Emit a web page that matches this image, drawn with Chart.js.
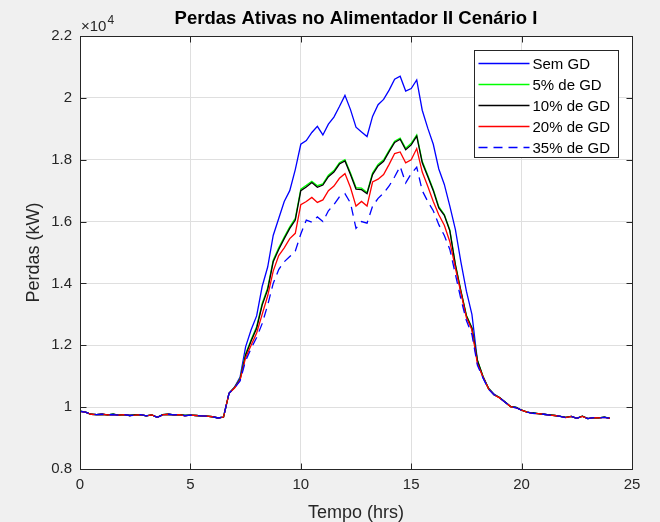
<!DOCTYPE html>
<html>
<head>
<meta charset="utf-8">
<script src="https://cdn.jsdelivr.net/npm/chart.js@4.4.0/dist/chart.umd.min.js"></script>
<style>
  html, body { margin: 0; padding: 0; background: #f0f0f0; }
  #wrap { width: 660px; height: 522px; }
</style>
</head>
<body>
<div id="wrap"><canvas id="chart" width="660" height="522"></canvas></div>
<script>
// tempo em horas (passo de 15 min)
const hours = [
  0, 0.25, 0.5, 0.75, 1, 1.25, 1.5, 1.75, 2, 2.25, 2.5, 2.75, 3, 3.25, 3.5, 3.75,
  4, 4.25, 4.5, 4.75, 5, 5.25, 5.5, 5.75, 6, 6.25, 6.5, 6.75, 7, 7.25, 7.5, 7.75,
  8, 8.25, 8.5, 8.75, 9, 9.25, 9.5, 9.75, 10, 10.25, 10.5, 10.75, 11, 11.25, 11.5, 11.75,
  12, 12.25, 12.5, 12.75, 13, 13.25, 13.5, 13.75, 14, 14.25, 14.5, 14.75, 15, 15.25, 15.5, 15.75,
  16, 16.25, 16.5, 16.75, 17, 17.25, 17.5, 17.75, 18, 18.25, 18.5, 18.75, 19, 19.25, 19.5, 19.75,
  20, 20.25, 20.5, 20.75, 21, 21.25, 21.5, 21.75, 22, 22.25, 22.5, 22.75, 23, 23.25, 23.5, 23.75, 24
];

// perdas em kW
const semGD = [
  9870, 9840, 9770, 9760, 9770, 9750, 9770, 9740, 9760, 9730, 9750, 9760, 9720, 9750, 9670, 9760,
  9770, 9750, 9760, 9730, 9740, 9730, 9720, 9710, 9690, 9650, 9680, 10450, 10650, 10970, 11950, 12500,
  12950, 13900, 14530, 15550, 16100, 16650, 17000, 17680, 18500, 18620, 18880, 19080, 18800, 19150, 19380, 19720,
  20080, 19620, 19050, 18900, 18750, 19400, 19780, 19950, 20250, 20600, 20700, 20220, 20300, 20580, 19600, 19020,
  18500, 17700, 17200, 16500, 15750, 14700, 13750, 13000, 11500, 10950, 10620, 10420, 10310, 10170, 10020, 9990,
  9900, 9840, 9810, 9790, 9770, 9750, 9730, 9700, 9670, 9700, 9640, 9710, 9630, 9660, 9650, 9680, 9640
];
const gd5 = [
  9870, 9840, 9770, 9760, 9770, 9750, 9770, 9740, 9760, 9730, 9750, 9760, 9720, 9750, 9670, 9760,
  9770, 9750, 9760, 9730, 9740, 9730, 9720, 9710, 9690, 9650, 9680, 10450, 10640, 10920, 11720, 12180,
  12600, 13350, 13850, 14750, 15150, 15500, 15830, 16100, 17050, 17170, 17300, 17160, 17220, 17500, 17650, 17900,
  18000, 17570, 17100, 17080, 16940, 17570, 17850, 18000, 18300, 18600, 18700, 18370, 18530, 18800, 17950, 17500,
  17040, 16480, 16230, 15730, 14620, 13770, 12970, 12570, 11520, 11000, 10610, 10410, 10310, 10170, 10020, 9990,
  9900, 9840, 9810, 9790, 9770, 9750, 9730, 9700, 9670, 9700, 9640, 9710, 9630, 9660, 9650, 9680, 9640
];
const gd10 = [
  9870, 9840, 9770, 9760, 9770, 9750, 9770, 9740, 9760, 9730, 9750, 9760, 9720, 9750, 9670, 9760,
  9770, 9750, 9760, 9730, 9740, 9730, 9720, 9710, 9690, 9650, 9680, 10450, 10630, 10900, 11680, 12140,
  12550, 13300, 13800, 14700, 15100, 15450, 15780, 16050, 17000, 17120, 17260, 17110, 17180, 17450, 17600, 17860,
  17960, 17520, 17050, 17030, 16900, 17520, 17800, 17950, 18260, 18560, 18660, 18320, 18480, 18760, 17900, 17460,
  17000, 16440, 16200, 15700, 14600, 13750, 12950, 12550, 11500, 10990, 10600, 10400, 10310, 10170, 10020, 9990,
  9900, 9840, 9810, 9790, 9770, 9750, 9730, 9700, 9670, 9700, 9640, 9710, 9630, 9660, 9650, 9680, 9640
];
const gd20 = [
  9860, 9840, 9770, 9760, 9770, 9750, 9760, 9740, 9760, 9730, 9740, 9760, 9720, 9750, 9670, 9750,
  9770, 9750, 9760, 9720, 9740, 9730, 9720, 9710, 9690, 9650, 9680, 10450, 10620, 10880, 11600, 12000,
  12400, 13000, 13600, 14400, 14900, 15150, 15450, 15620, 16550, 16650, 16780, 16620, 16700, 17000, 17150, 17400,
  17550, 17100, 16500, 16650, 16500, 17280, 17370, 17520, 17850, 18200, 18250, 17900, 18000, 18360, 17600, 17140,
  16650, 16220, 15880, 15350, 14500, 13700, 12900, 12500, 11400, 10980, 10600, 10400, 10300, 10160, 10020, 9980,
  9900, 9840, 9800, 9790, 9770, 9740, 9730, 9700, 9660, 9700, 9640, 9700, 9630, 9660, 9650, 9670, 9640
];
const gd35 = [
  9860, 9840, 9770, 9760, 9770, 9750, 9760, 9740, 9760, 9730, 9740, 9760, 9720, 9750, 9670, 9750,
  9770, 9750, 9760, 9720, 9740, 9730, 9720, 9710, 9690, 9650, 9680, 10450, 10620, 10850, 11500, 11900,
  12250, 12700, 13300, 14000, 14450, 14700, 14870, 15040, 15600, 16050, 15980, 16150, 16000, 16350, 16550, 16800,
  16900, 16600, 15780, 16000, 15950, 16500, 16750, 16920, 17150, 17450, 17780, 17250, 17550, 17760, 17000, 16650,
  16350, 15900, 15550, 15100, 14300, 13500, 12800, 12350, 11350, 10950, 10580, 10400, 10300, 10160, 10020, 9980,
  9900, 9840, 9800, 9790, 9770, 9740, 9730, 9700, 9660, 9700, 9640, 9700, 9630, 9660, 9650, 9670, 9640
];

const seriesNames = ['Sem GD', '5% de GD', '10% de GD', '20% de GD', '35% de GD'];
const xTicks = [0, 5, 10, 15, 20, 25];
const yTickValues = [8000, 10000, 12000, 14000, 16000, 18000, 20000, 22000];
const yTickLabels = ['0.8', '1', '1.2', '1.4', '1.6', '1.8', '2', '2.2'];

const FONT = 'Liberation Sans, Arial, Helvetica, sans-serif';
const AXIS_GREY = '#262626';

const series = [semGD, gd5, gd10, gd20, gd35];
const lineStyles = [
  { color: '#0000ff', dash: [] },
  { color: '#00ff00', dash: [] },
  { color: '#000000', dash: [] },
  { color: '#ff0000', dash: [] },
  { color: '#0000ff', dash: [9, 6] },
];

// moldura no estilo MATLAB: fundo branco, caixa, ticks para dentro, titulo, legenda
const matlabFrame = {
  id: 'matlabFrame',
  beforeDraw(chart) {
    const { ctx, chartArea: a } = chart;
    ctx.save();
    ctx.fillStyle = '#ffffff';
    ctx.fillRect(a.left, a.top, a.right - a.left, a.bottom - a.top);
    ctx.restore();
  },
  afterDatasetsDraw(chart) {
    const { ctx, chartArea: a, scales } = chart;
    const L = Math.round(a.left) + 0.5, R = Math.round(a.right) + 0.5;
    const T = Math.round(a.top) + 0.5, B = Math.round(a.bottom) + 0.5;
    ctx.save();
    ctx.strokeStyle = AXIS_GREY;
    ctx.lineWidth = 1;
    ctx.beginPath();
    xTicks.forEach(v => {
      const px = Math.round(scales.x.getPixelForValue(v)) + 0.5;
      ctx.moveTo(px, B); ctx.lineTo(px, B - 6);
      ctx.moveTo(px, T); ctx.lineTo(px, T + 6);
    });
    yTickValues.forEach(v => {
      const py = Math.round(scales.y.getPixelForValue(v)) + 0.5;
      ctx.moveTo(L, py); ctx.lineTo(L + 6, py);
      ctx.moveTo(R, py); ctx.lineTo(R - 6, py);
    });
    ctx.stroke();
    ctx.strokeRect(L, T, R - L, B - T);

    // legenda
    const lw = 144, lh = 107;
    const lx = Math.round(a.right) - 14 - lw + 0.5;
    const ly = Math.round(a.top) + 14 + 0.5;
    ctx.fillStyle = '#ffffff';
    ctx.fillRect(lx, ly, lw, lh);
    ctx.strokeStyle = AXIS_GREY;
    ctx.strokeRect(lx, ly, lw, lh);
    ctx.font = '15px ' + FONT;
    ctx.textBaseline = 'middle';
    ctx.textAlign = 'left';
    seriesNames.forEach((name, i) => {
      const y = ly + 13 + i * 21;
      const st = lineStyles[i];
      ctx.beginPath();
      ctx.strokeStyle = st.color;
      ctx.lineWidth = 1.3;
      ctx.setLineDash(st.dash);
      ctx.moveTo(lx + 4, y); ctx.lineTo(lx + 55, y);
      ctx.stroke();
      ctx.setLineDash([]);
      ctx.fillStyle = '#000000';
      ctx.fillText(name, lx + 58, y + 1);
    });
    ctx.restore();
  },
  afterDraw(chart) {
    const { ctx, chartArea: a } = chart;
    const cx = (a.left + a.right) / 2;
    ctx.save();
    ctx.fillStyle = '#000000';
    ctx.textAlign = 'center';
    ctx.textBaseline = 'alphabetic';
    ctx.font = 'bold 18.5px ' + FONT;
    ctx.fillText('Perdas Ativas no Alimentador II Cenário I', cx, 24);

    ctx.fillStyle = AXIS_GREY;
    ctx.font = '18px ' + FONT;
    ctx.fillText('Tempo (hrs)', cx, 518);

    ctx.save();
    ctx.translate(34, (a.top + a.bottom) / 2);
    ctx.rotate(-Math.PI / 2);
    ctx.textBaseline = 'middle';
    ctx.fillText('Perdas (kW)', 0, 0);
    ctx.restore();

    // multiplicador do eixo y
    ctx.textAlign = 'left';
    ctx.font = '15px ' + FONT;
    ctx.fillText('\u00d710', a.left + 1, 31);
    const base = ctx.measureText('\u00d710').width;
    ctx.font = '12px ' + FONT;
    ctx.fillText('4', a.left + 2 + base, 24);
    ctx.restore();
  }
};

new Chart(document.getElementById('chart'), {
  type: 'scatter',
  data: {
    datasets: series.map((vals, i) => ({
      label: seriesNames[i],
      data: hours.map((h, k) => ({ x: h, y: vals[k] })),
      showLine: true,
      borderColor: lineStyles[i].color,
      borderDash: lineStyles[i].dash,
      borderWidth: 1.3,
      pointRadius: 0,
      pointHoverRadius: 0,
      fill: false,
      tension: 0,
      order: series.length - i,
    })),
  },
  options: {
    responsive: false,
    animation: false,
    layout: { padding: { top: 36, right: 28, bottom: 0, left: 0 } },
    plugins: {
      legend: { display: false },
      title: { display: false },
      tooltip: { enabled: false },
    },
    scales: {
      x: {
        type: 'linear',
        min: 0,
        max: 25,
        afterBuildTicks: (s) => { s.ticks = xTicks.map(v => ({ value: v })); },
        afterFit: (s) => { s.height = 53; },
        ticks: { color: AXIS_GREY, font: { family: FONT, size: 15 }, padding: 7, maxRotation: 0, autoSkip: false },
        grid: { color: '#dfdfdf', drawTicks: false },
        border: { display: false },
      },
      y: {
        type: 'linear',
        min: 8000,
        max: 22000,
        afterBuildTicks: (s) => { s.ticks = yTickValues.map(v => ({ value: v })); },
        afterFit: (s) => { s.width = 80; },
        ticks: {
          color: AXIS_GREY,
          font: { family: FONT, size: 15 },
          padding: 8,
          callback: (v, i) => yTickLabels[i],
        },
        grid: { color: '#dfdfdf', drawTicks: false },
        border: { display: false },
      },
    },
  },
  plugins: [matlabFrame],
});
</script>
</body>
</html>
